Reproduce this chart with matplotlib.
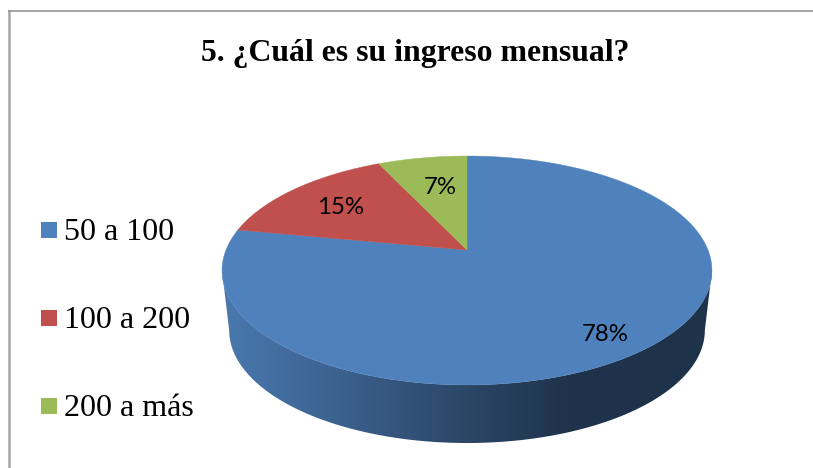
import numpy as np
import matplotlib
matplotlib.use("Agg")
import matplotlib.pyplot as plt
from matplotlib.colors import LinearSegmentedColormap
from matplotlib.patches import Polygon, Rectangle

title = "5. ¿Cuál es su ingreso mensual?"
categories = ["50 a 100", "100 a 200", "200 a más"]
shares = [78, 15, 7]
colors = ["#4f81bd", "#c0504d", "#9bbb59"]
label_pos = [(605, 341), (341, 214), (440, 194)]
legend_y = [230, 318, 406]

CX = 467.0
P = 0.179


def project(theta, s, q, apex_y):
    x, y = np.cos(theta), np.sin(theta)
    d = 1 + P * y
    return np.column_stack([CX + s * x / d, apex_y - q * y / d])


TOP = dict(s=241.0, q=110.8, apex_y=250.0)
BOT = dict(s=234.0, q=109.2, apex_y=310.0)

fig = plt.figure(figsize=(8.13, 4.68), dpi=100, facecolor="white")
ax = fig.add_axes([0, 0, 1, 1])
ax.set_axis_off()

# side wall with a horizontal shading
a0 = np.arcsin(P)
t = np.linspace(np.pi + a0, 2 * np.pi - a0, 300)
wall = np.vstack([project(t, **TOP), project(t, **BOT)[::-1]])
wall_patch = Polygon(wall, closed=True, fc="none", ec="none")
ax.add_patch(wall_patch)
stops = [(0.0, "#4a79ae"), (0.16, "#40699a"), (0.50, "#2b4666"),
         (0.70, "#1f334c"), (1.0, "#1e324a")]
cmap = LinearSegmentedColormap.from_list("wall", stops)
im = ax.imshow(np.linspace(0, 1, 512)[None, :], cmap=cmap, aspect="auto",
               extent=(222, 712, 445, 260), interpolation="bilinear")
im.set_clip_path(wall_patch)

# top face, wedges clockwise from 12 o'clock
total = sum(shares)
start = np.pi / 2
for share, color in zip(shares, colors):
    end = start - 2 * np.pi * share / total
    arc = project(np.linspace(start, end, 240), **TOP)
    pts = np.vstack([[CX, TOP["apex_y"]], arc])
    ax.add_patch(Polygon(pts, closed=True, fc=color, ec=color, lw=0.3))
    start = end

for share, (x, y) in zip(shares, label_pos):
    ax.text(x, y, f"{share}%", ha="center", va="baseline", color="black",
            family="Lato", fontsize=17.3)

ax.text(415.5, 60.5, title, ha="center", va="baseline", family="Liberation Serif",
        fontweight="bold", fontsize=22.85, color="black")

for name, color, y in zip(categories, colors, legend_y):
    ax.add_patch(Rectangle((41, y - 8), 16, 16, fc=color, ec="none"))
    ax.text(63.5, y + 10, name, ha="left", va="baseline", family="Liberation Serif",
            fontsize=23, color="black")

# frame
ax.plot([9, 9], [10, 468], color="#a6a6a6", lw=1.8, solid_capstyle="butt")
ax.plot([8, 813], [10.5, 10.5], color="#8c8c8c", lw=1.1, solid_capstyle="butt")

ax.set_xlim(0, 813)
ax.set_ylim(468, 0)
fig.savefig("out.png", dpi=100, facecolor="white")
